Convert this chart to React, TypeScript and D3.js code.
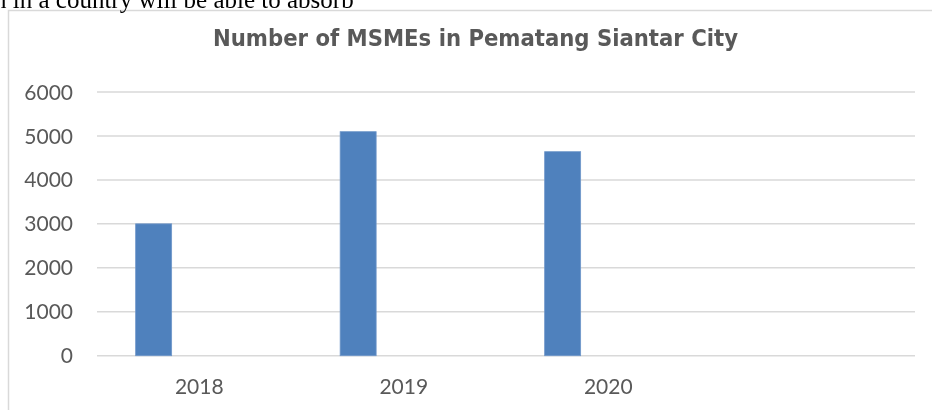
import React from "react";
import * as d3 from "d3";

const categories = ["2018", "2019", "2020", ""];
const values = [3000, 5097, 4642, null];
const yTicks = [0, 1000, 2000, 3000, 4000, 5000, 6000];
const titleText = "Number of MSMEs in Pematang Siantar City";
const topText = "n in a country will be able to absorb";

export default function App() {
  const W = 932;
  const H = 410;
  const plotLeft = 97;
  const plotRight = 915;
  const y = d3.scaleLinear().domain([0, 6000]).range([355.7, 92]);
  const x = d3.scaleBand<string>().domain(categories.map((c, i) => String(i))).range([plotLeft, plotRight]);
  const bw = x.bandwidth();
  const barOffset = bw * 0.189;
  const barWidth = bw * 0.176;
  const grey = "#595959";
  const gridColor = "#d9d9d9";
  const labelFont = "Lato, 'Open Sans', sans-serif";

  return (
    <div style={{ position: "fixed", left: 0, top: 0 }}>
      <svg width={W} height={H} style={{ display: "block" }}>
        <rect x={0} y={0} width={W} height={H} fill="#fff" />
        <rect x={8.5} y={10.5} width={W + 20} height={H + 20} fill="#fff" stroke={gridColor} strokeWidth={1.5} />
        <text x={-6} y={8} fontFamily="'Liberation Serif', 'Times New Roman', serif" fontSize={25} fill="#000">
          {topText}
        </text>
        <text
          x={475.5}
          y={46}
          textAnchor="middle"
          fontFamily="'DejaVu Sans Condensed', 'DejaVu Sans', Verdana, sans-serif"
          fontWeight="bold"
          fontSize={23.5}
          fill={grey}
          textLength={525}
          lengthAdjust="spacingAndGlyphs"
        >
          {titleText}
        </text>
        {yTicks.map((t) => (
          <g key={t}>
            <line x1={plotLeft} x2={plotRight} y1={y(t)} y2={y(t)} stroke={gridColor} strokeWidth={1.5} />
            <text
              x={73}
              y={y(t)}
              dy="0.36em"
              textAnchor="end"
              fontFamily={labelFont}
              fontSize={21}
              fill={grey}
            >
              {t}
            </text>
          </g>
        ))}
        {categories.map((c, i) => {
          const v = values[i];
          const x0 = x(String(i)) as number;
          return (
            <g key={i}>
              {v != null && (
                <rect
                  x={x0 + barOffset}
                  y={y(v)}
                  width={barWidth}
                  height={y(0) - y(v)}
                  fill="#4f81bd"
                  stroke="#6f97c9"
                  strokeWidth={0.8}
                />
              )}
              <text
                x={x0 + bw / 2}
                y={394}
                textAnchor="middle"
                fontFamily={labelFont}
                fontSize={21}
                fill={grey}
              >
                {c}
              </text>
            </g>
          );
        })}
      </svg>
    </div>
  );
}
